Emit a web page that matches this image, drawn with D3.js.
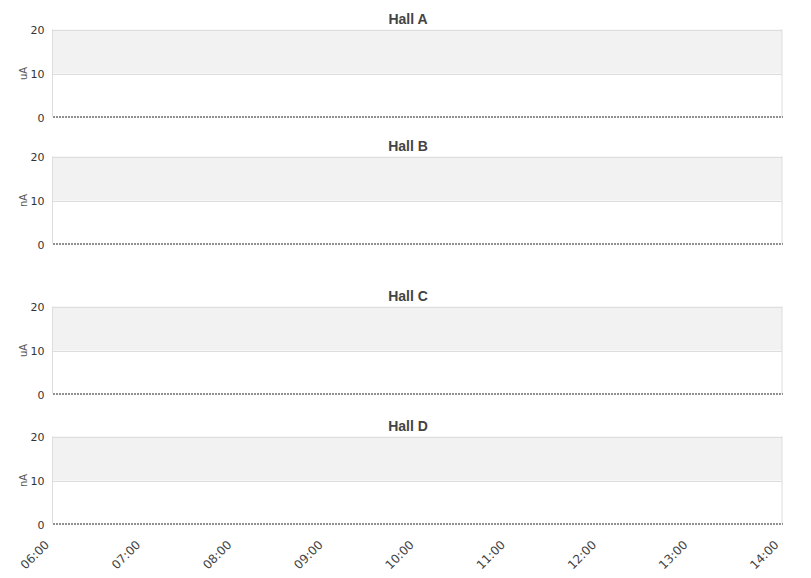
<!DOCTYPE html>
<html>
<head>
<meta charset="utf-8">
<script src="https://cdn.jsdelivr.net/npm/d3@7"></script>
<style>
  body { margin: 0; background: #fff; }
  svg { display: block; }
</style>
</head>
<body>
<svg id="chart" width="811" height="578"></svg>
<script>
// data
const hallNames = ["Hall A", "Hall B", "Hall C", "Hall D"];
const hallUnits = ["uA", "nA", "uA", "nA"];
const yTickValues = [0, 10, 20];
const bandRange = [10, 20];
const timeTickLabels = ["06:00", "07:00", "08:00", "09:00", "10:00", "11:00", "12:00", "13:00", "14:00"];
const seriesTimes = ["06:00", "14:00"];
const seriesValues = [0, 0];

// layout
const plotLeft = 52.5, plotRight = 782;
const plotHeight = 88;
const panelTops = [29.5, 156.5, 306.5, 436.5];

const parseTime = d3.timeParse("%H:%M");
const fmt = d3.timeFormat("%H:%M");

const svg = d3.select("#chart");

const x = d3.scaleTime()
    .domain([parseTime(timeTickLabels[0]), parseTime(timeTickLabels[timeTickLabels.length - 1])])
    .range([plotLeft, plotRight]);

const series = seriesTimes.map((t, i) => ({ t: parseTime(t), v: seriesValues[i] }));

hallNames.forEach((name, i) => {
    const top = panelTops[i];
    const y = d3.scaleLinear()
        .domain([0, 20])
        .range([top + plotHeight, top]);

    const g = svg.append("g");

    // shaded band
    g.append("rect")
        .attr("x", plotLeft)
        .attr("y", y(bandRange[1]))
        .attr("width", plotRight - plotLeft)
        .attr("height", y(bandRange[0]) - y(bandRange[1]))
        .attr("fill", "#f2f2f2");

    // horizontal grid
    g.selectAll("line.grid")
        .data(yTickValues.filter(d => d > 0))
        .join("line")
        .attr("x1", plotLeft)
        .attr("x2", plotRight)
        .attr("y1", d => Math.round(y(d)) + 0.5)
        .attr("y2", d => Math.round(y(d)) + 0.5)
        .attr("stroke", "#dddddd");

    // side borders
    [plotLeft, plotRight].forEach(px => {
        g.append("line")
            .attr("x1", px).attr("x2", px)
            .attr("y1", y(20)).attr("y2", y(0) - 1)
            .attr("stroke", "#dddddd");
    });

    // y axis
    const yAxis = d3.axisLeft(y).tickValues(yTickValues).tickSize(0).tickPadding(8);
    const ya = g.append("g")
        .attr("transform", `translate(${plotLeft},0)`)
        .call(yAxis);
    ya.select(".domain").remove();
    ya.selectAll("text")
        .attr("fill", "#333")
        .style("font-family", "'DejaVu Sans', sans-serif")
        .style("font-size", "11px");

    // unit label
    g.append("text")
        .attr("transform", `translate(27,${y(10)}) rotate(-90)`)
        .attr("text-anchor", "middle")
        .attr("fill", "#555")
        .style("font-family", "'DejaVu Sans', sans-serif")
        .style("font-size", "10px")
        .text(hallUnits[i]);

    // title
    g.append("text")
        .attr("x", 408)
        .attr("y", top - 6)
        .attr("text-anchor", "middle")
        .attr("fill", "#444")
        .style("font-family", "'Liberation Sans', Arial, sans-serif")
        .style("font-weight", "bold")
        .style("font-size", "14px")
        .text(name);

    // series (all zero readings)
    g.append("path")
        .datum(series)
        .attr("fill", "none")
        .attr("stroke", "#222")
        .attr("stroke-width", 2)
        .attr("stroke-dasharray", "1,2")
        .attr("d", d3.line().x(d => x(d.t) + 1).y(d => y(d.v) - 0.5));
});

// x axis under the last panel
const lastBottom = panelTops[panelTops.length - 1] + plotHeight;
const xAxis = d3.axisBottom(x)
    .tickValues(timeTickLabels.map(parseTime))
    .tickFormat(fmt)
    .tickSize(0);
const xa = svg.append("g")
    .attr("transform", `translate(0,${lastBottom})`)
    .call(xAxis);
xa.select(".domain").remove();
xa.selectAll("text")
    .attr("fill", "#444")
    .style("font-family", "'DejaVu Sans', sans-serif")
    .style("font-size", "12px")
    .attr("text-anchor", "end")
    .attr("dy", "0")
    .attr("y", 0)
    .attr("transform", "translate(-3,21) rotate(-45)");
</script>
</body>
</html>
